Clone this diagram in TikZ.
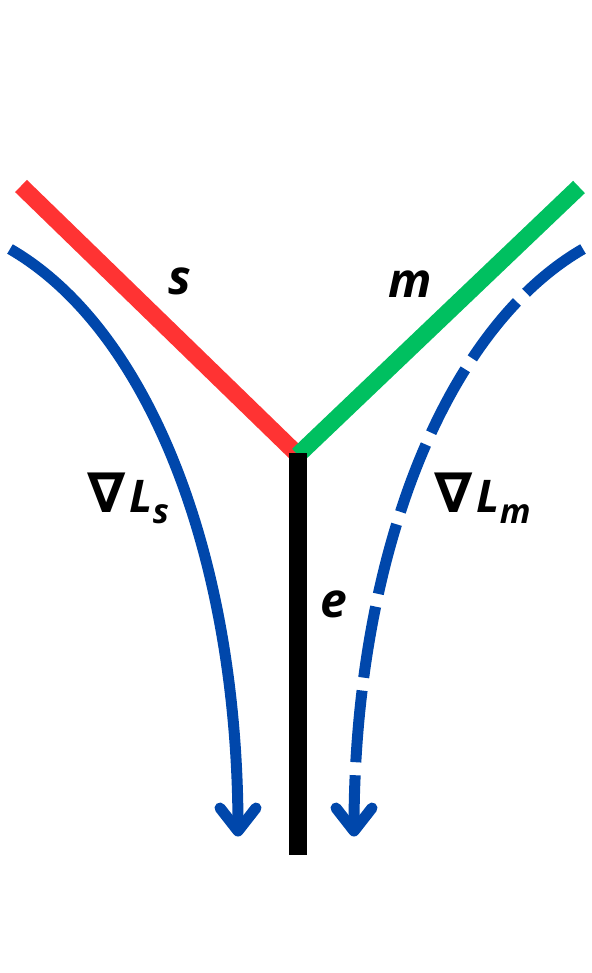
\documentclass[tikz,border=0pt]{standalone}
\usepackage{fontspec}
\setmainfont{Open Sans}[BoldItalicFont={* Bold Italic}]
\newfontfamily\nablafont{DejaVu Sans}
\definecolor{redline}{HTML}{FF3333}
\definecolor{greenline}{HTML}{00C060}
\definecolor{blueline}{HTML}{0047AB}
\begin{document}
\begin{tikzpicture}[x=1pt,y=-1pt,
  branch/.style={line width=17pt},
  grad/.style={draw=blueline,line width=11pt},
  chev/.style={draw=blueline,line width=11pt,line cap=round,line join=round},
  lbl/.style={font=\fontsize{48}{48}\selectfont\bfseries\itshape,inner sep=0pt},
  sublbl/.style={font=\fontsize{45}{45}\selectfont\bfseries\itshape,inner sep=0pt,anchor=base west}]
\useasboundingbox (0,0) rectangle (591,973);
\coordinate (J) at (298,455);
\coordinate (S) at (21,186);
\coordinate (M) at (579,187);
\coordinate (Etop) at (298,453);
\coordinate (Ebot) at (298,855);
% branches
\draw[branch,draw=redline] (S) -- (J);
\draw[branch,draw=greenline] (M) -- (J);
\draw[line width=18pt] (Etop) -- (Ebot);
% gradient curves
\coordinate (LS0) at (10,249);
\coordinate (LS1) at (238,828);
\coordinate (LM0) at (583,249);
\coordinate (LM1) at (354,828);
\draw[grad] (LS0) .. controls (150,330) and (238,560) .. (LS1);
\draw[grad,dash pattern=on 72pt off 13pt] (LM0) .. controls (443,330) and (354,560) .. (LM1);
% arrowheads
\coordinate (LSa) at (220,808);
\coordinate (LSt) at (238,831);
\coordinate (LSb) at (256,808);
\coordinate (LMa) at (336,808);
\coordinate (LMt) at (354,831);
\coordinate (LMb) at (372,808);
\draw[chev] (LSa) -- (LSt) -- (LSb);
\draw[chev] (LMa) -- (LMt) -- (LMb);
% labels
\node[lbl] (ls) at (180,281) {s};
\node[lbl] (lm) at (410,284) {m};
\node[lbl] (le) at (334,604) {e};
\node[sublbl] (gs) at (87,512) {{\nablafont\upshape\bfseries\fontsize{55}{55}\selectfont ∇}\hspace{4pt}L\raisebox{-11pt}{\fontsize{34}{34}\selectfont s}};
\node[sublbl] (gm) at (434,512) {{\nablafont\upshape\bfseries\fontsize{55}{55}\selectfont ∇}\hspace{4pt}L\raisebox{-11pt}{\fontsize{34}{34}\selectfont m}};
\end{tikzpicture}
\end{document}
